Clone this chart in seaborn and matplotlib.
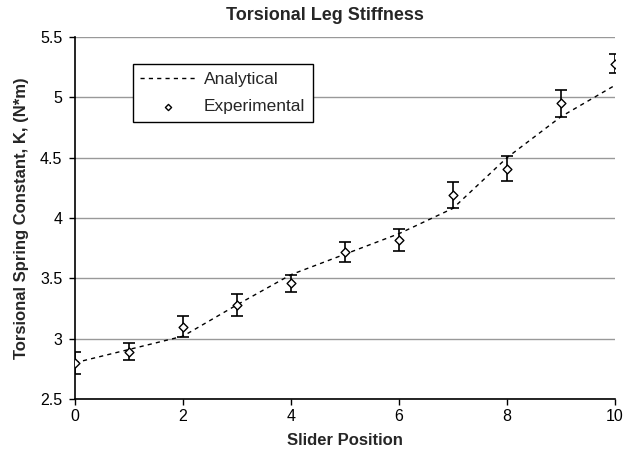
import numpy as np
import pandas as pd
import seaborn as sb
import matplotlib.pyplot as plt

# slider positions and measured / computed stiffness
slider = [0, 1, 2, 3, 4, 5, 6, 7, 8, 9, 10]
analytical = [2.80, 2.91, 3.02, 3.28, 3.53, 3.70, 3.87, 4.08, 4.50, 4.84, 5.10]
experimental = [2.80, 2.89, 3.10, 3.28, 3.46, 3.72, 3.82, 4.19, 4.41, 4.95, 5.28]
error = [0.09, 0.07, 0.09, 0.09, 0.07, 0.085, 0.09, 0.11, 0.105, 0.11, 0.08]

df = pd.DataFrame({"Slider": slider, "Analytical": analytical,
                   "Experimental": experimental, "Error": error})

sb.set_style("ticks")
plt.rcParams["font.family"] = ["Liberation Sans", "DejaVu Sans"]

fig, ax = plt.subplots(figsize=(6.4, 4.57), dpi=100)
fig.subplots_adjust(left=0.117, right=0.961, top=0.919, bottom=0.127)

ax.yaxis.grid(True, color="#999999", linewidth=1.0)
ax.set_axisbelow(True)

sb.lineplot(data=df, x="Slider", y="Analytical", ax=ax, color="black",
            linestyle=(0, (3, 3)), linewidth=1.0, label="Analytical")
ax.errorbar(df["Slider"], df["Experimental"], yerr=df["Error"], fmt="none",
            ecolor="black", elinewidth=1.2, capsize=4, capthick=1.2)
sb.scatterplot(data=df, x="Slider", y="Experimental", ax=ax, marker="D",
               s=20, color="white", edgecolor="black", linewidth=1.0,
               label="Experimental", zorder=5)

ax.set_xlim(0, 10)
ax.set_ylim(2.5, 5.5)
ax.set_xticks([0, 2, 4, 6, 8, 10])
ax.set_yticks([2.5, 3, 3.5, 4, 4.5, 5, 5.5])
ax.set_yticklabels(["2.5", "3", "3.5", "4", "4.5", "5", "5.5"])
ax.tick_params(labelsize=11.5, length=4, width=1, colors="black")
ax.tick_params(axis="y", pad=5)
for s in ["top", "right"]:
    ax.spines[s].set_visible(False)
for s in ["left", "bottom"]:
    ax.spines[s].set_color("black")
    ax.spines[s].set_linewidth(1.2)

fig.suptitle("Torsional Leg Stiffness", x=0.508, y=0.985, fontsize=13,
             fontweight="bold")
ax.set_xlabel("Slider Position", fontsize=12, fontweight="bold", labelpad=6)
ax.set_ylabel("Torsional Spring Constant, K, (N*m)", fontsize=12,
              fontweight="bold", labelpad=8)

leg = ax.legend(loc="upper left", bbox_to_anchor=(0.107, 0.925), fontsize=12.5,
                frameon=True, fancybox=False, framealpha=1, edgecolor="black",
                borderpad=0.45, borderaxespad=0, handlelength=3.2,
                handletextpad=0.45, labelspacing=0.7, markerscale=0.7)
leg.get_frame().set_linewidth(1.0)

plt.savefig("out.png", dpi=100)
